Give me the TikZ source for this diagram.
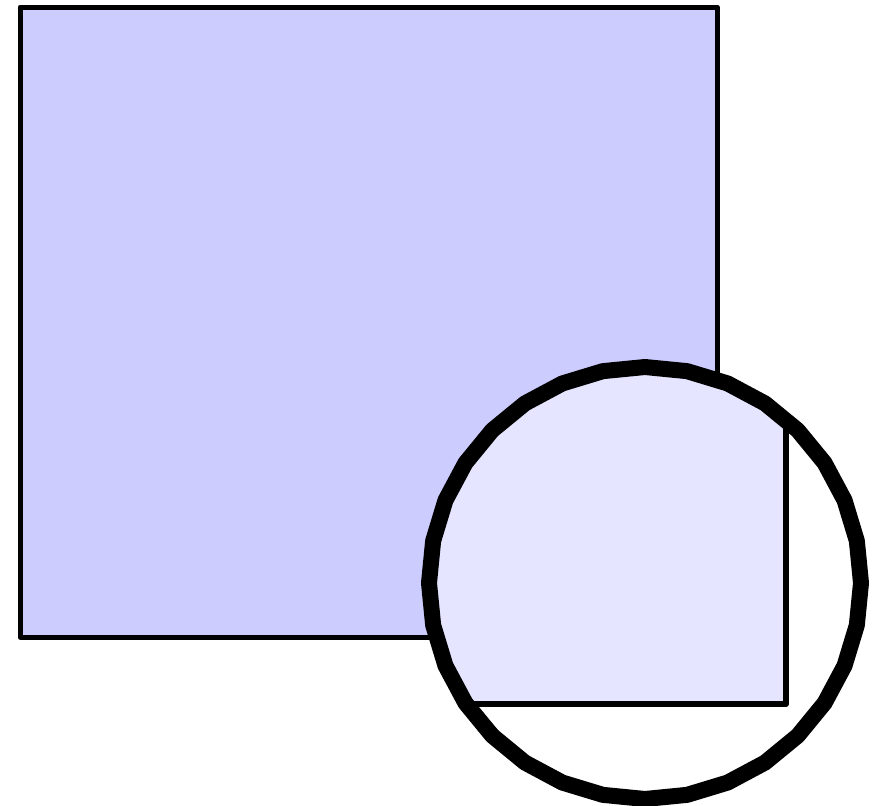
\documentclass[tikz,border=0pt]{standalone}
\usepackage{xcolor}
\usepackage{tikz}

\begin{document}
\begin{tikzpicture}[x=1pt, y=-1pt,
        frame/.style={draw=black, line width=5pt, line join=round},
        lensrim/.style={draw=black, line width=16pt, line join=round}]
        \useasboundingbox (0,0) rectangle (879,806);

        \coordinate (lens) at (645,583);

        \draw[frame, fill=blue!20] (20,7) rectangle (717,637);

        \begin{scope}
            \clip plot[samples=33, domain=90:450] ({645+216*cos(\x)}, {583-216*sin(\x)});
            \fill[white] (lens) circle (230);
            \draw[frame, line width=6pt, fill=blue!10] (300,200) rectangle (786,704);
        \end{scope}

        \draw[lensrim] plot[samples=33, domain=90:450] ({645+216*cos(\x)}, {583-216*sin(\x)}) -- cycle;
        \draw[black, line width=10pt] plot[samples=9, domain=100:230] ({643+214*cos(\x)}, {582-214*sin(\x)});
    \end{tikzpicture}
\end{document}
